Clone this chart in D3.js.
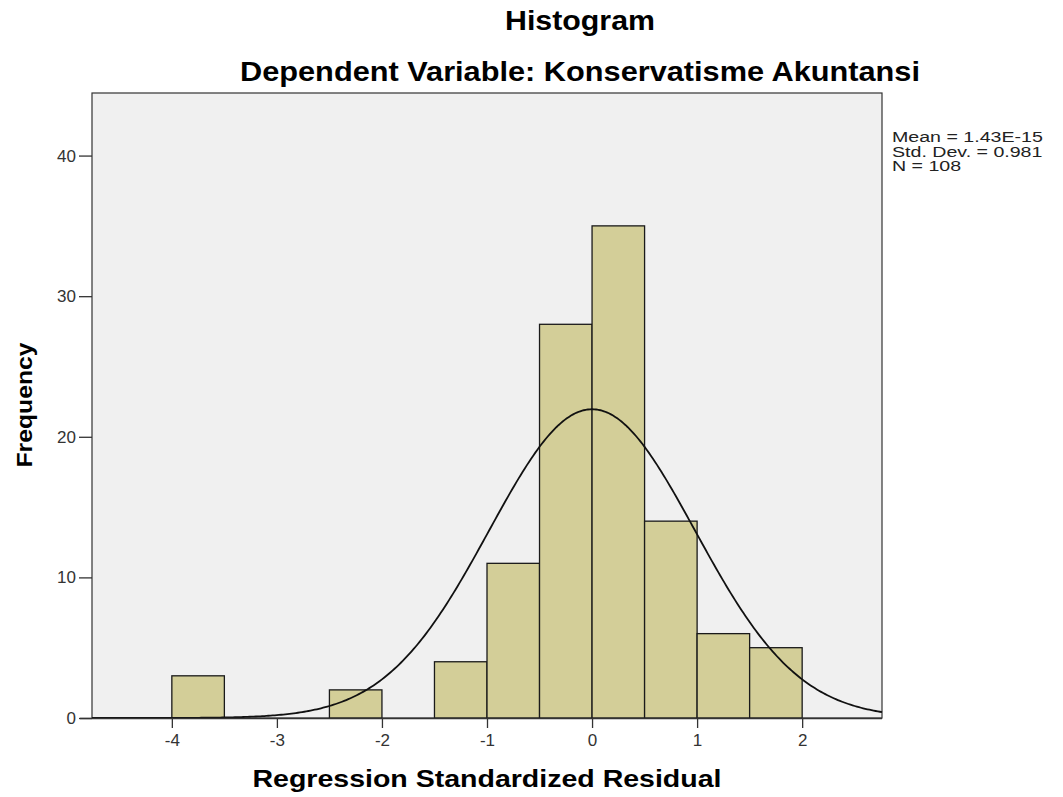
<!DOCTYPE html>
<html>
<head>
<meta charset="utf-8">
<script src="https://cdn.jsdelivr.net/npm/d3@7"></script>
<style>
  body { margin: 0; background: #fff; }
  text { font-family: "Liberation Sans", Arial, sans-serif; }
</style>
</head>
<body>
<svg width="1063" height="797"></svg>
<script>
// histogram bins (lower edge, upper edge, count)
var binStart = [-4, -2.5, -1.5, -1, -0.5, 0, 0.5, 1, 1.5];
var binEnd   = [-3.5, -2, -1, -0.5, 0, 0.5, 1, 1.5, 2];
var counts   = [3, 2, 4, 11, 28, 35, 14, 6, 5];
var xTicks = [-4, -3, -2, -1, 0, 1, 2];
var yTicks = [0, 10, 20, 30, 40];
var mean = 1.43e-15, stdDev = 0.981, n = 108, binWidth = 0.5;
var statLines = ['Mean = 1.43E-15', 'Std. Dev. = 0.981', 'N = 108'];

var svg = d3.select('svg');

var x = d3.scaleLinear().domain([-4.76, 2.76]).range([92, 882]);
var y = d3.scaleLinear().domain([0, 44.45]).range([718, 93]);

// plot background
svg.append('rect')
    .attr('x', 92).attr('y', 93)
    .attr('width', 790).attr('height', 625)
    .attr('fill', '#f0f0f0')
    .attr('stroke', '#333').attr('stroke-width', 1.2);

// bars
svg.selectAll('rect.bar')
    .data(counts)
    .enter()
    .append('rect')
    .attr('class', 'bar')
    .attr('x', (d, i) => x(binStart[i]))
    .attr('y', d => y(d))
    .attr('width', (d, i) => x(binEnd[i]) - x(binStart[i]))
    .attr('height', d => y(0) - y(d))
    .attr('fill', '#d3ce98')
    .attr('stroke', '#1a1a1a')
    .attr('stroke-width', 1.3);

// normal curve from mean / sd / N
var curvePts = d3.range(x.domain()[0], x.domain()[1] + 0.001, 0.02).map(function(v) {
    var z = (v - mean) / stdDev;
    return [v, n * binWidth * Math.exp(-0.5 * z * z) / (stdDev * Math.sqrt(2 * Math.PI))];
});
svg.append('path')
    .datum(curvePts)
    .attr('d', d3.line().x(d => x(d[0])).y(d => y(d[1])))
    .attr('fill', 'none')
    .attr('stroke', '#111')
    .attr('stroke-width', 1.8);

// axes
var xAxis = d3.axisBottom(x).tickValues(xTicks).tickFormat(d => String(d))
    .tickSize(10).tickSizeOuter(0).tickPadding(6);
var gx = svg.append('g').attr('transform', 'translate(0,718)').call(xAxis);
gx.select('.domain').attr('d', 'M80,0.5H882').attr('stroke', '#333').attr('stroke-width', 1.3);

var yAxis = d3.axisLeft(y).tickValues(yTicks).tickFormat(d => String(d))
    .tickSize(13).tickSizeOuter(0).tickPadding(3);
var gy = svg.append('g').attr('transform', 'translate(92,0)').call(yAxis);
gy.select('.domain').remove();

svg.selectAll('.tick line').attr('stroke', '#333').attr('stroke-width', 1.3);
svg.selectAll('.tick text')
    .attr('font-size', 17)
    .attr('fill', '#333')
    .style('font-family', '"Liberation Sans", Arial, sans-serif');

// titles
svg.append('text')
    .attr('text-anchor', 'middle')
    .attr('x', 580).attr('y', 30)
    .attr('font-size', 27).attr('font-weight', 'bold')
    .attr('textLength', 150).attr('lengthAdjust', 'spacingAndGlyphs')
    .text('Histogram');

svg.append('text')
    .attr('text-anchor', 'middle')
    .attr('x', 580).attr('y', 81)
    .attr('font-size', 27).attr('font-weight', 'bold')
    .attr('textLength', 680).attr('lengthAdjust', 'spacingAndGlyphs')
    .text('Dependent Variable: Konservatisme Akuntansi');

svg.append('text')
    .attr('text-anchor', 'middle')
    .attr('x', 487).attr('y', 787)
    .attr('font-size', 24).attr('font-weight', 'bold')
    .attr('textLength', 469).attr('lengthAdjust', 'spacingAndGlyphs')
    .text('Regression Standardized Residual');

svg.append('text')
    .attr('text-anchor', 'middle')
    .attr('transform', 'translate(32,405) rotate(-90)')
    .attr('font-size', 22).attr('font-weight', 'bold')
    .attr('textLength', 125).attr('lengthAdjust', 'spacingAndGlyphs')
    .text('Frequency');

// stats box, glyphs stretched wide like the original
svg.selectAll('text.stat')
    .data(statLines)
    .enter()
    .append('text')
    .attr('class', 'stat')
    .attr('transform', (d, i) => 'translate(892,' + (142 + i * 14.5) + ') scale(1.4,1)')
    .attr('font-size', 14)
    .attr('fill', '#222')
    .text(d => d);
</script>
</body>
</html>
